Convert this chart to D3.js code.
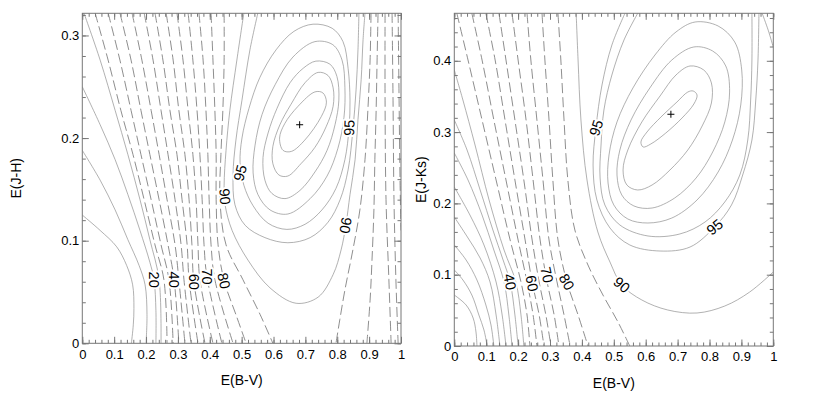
<!DOCTYPE html>
<html>
<head>
<meta charset="utf-8">
<script src="https://cdn.jsdelivr.net/npm/d3@7/dist/d3.min.js"></script>
<style>
  html,body{margin:0;padding:0;background:#fff;}
  svg{display:block;}
</style>
</head>
<body>
<svg id="chart" width="817" height="403"></svg>
<script>
// ---------------- DATA ----------------
const bvRange = [0, 1];
const bvTicks = [0,0.1,0.2,0.3,0.4,0.5,0.6,0.7,0.8,0.9,1];
const bvTickLabels = ["0","0.1","0.2","0.3","0.4","0.5","0.6","0.7","0.8","0.9","1"];

const jhRange = [0, 0.3216];
const jhTicks = [0,0.1,0.2,0.3];
const jhTickLabels = ["0","0.1","0.2","0.3"];

const jkRange = [0, 0.4666];
const jkTicks = [0,0.1,0.2,0.3,0.4];
const jkTickLabels = ["0","0.1","0.2","0.3","0.4"];

// Left panel: E(J-H) vs E(B-V) open contour lines
const jhLineLevels = [10,15,20,25,30,35,40,45,50,55,60,65,70,75,80,85,90,92.5,85,80,75,70,65];
const jhLines = [
 [[0,0.125],[0.056,0.110],[0.108,0.094],[0.139,0.076],[0.158,0.057],[0.162,0.034],[0.160,0.018],[0.154,0]],
 [[0,0.188],[0.056,0.159],[0.103,0.130],[0.143,0.101],[0.178,0.076],[0.197,0.057],[0.203,0.028],[0.200,0]],
 [[0,0.250],[0.056,0.213],[0.103,0.179],[0.143,0.145],[0.181,0.110],[0.212,0.079],[0.225,0.062],[0.231,0.032],[0.231,0]],
 [[0.005,0.322],[0.056,0.276],[0.103,0.227],[0.143,0.184],[0.181,0.140],[0.212,0.101],[0.241,0.062],[0.247,0]],
 [[0.040,0.322],[0.081,0.276],[0.121,0.227],[0.159,0.184],[0.194,0.140],[0.228,0.096],[0.256,0.062],[0.266,0]],
 [[0.081,0.322],[0.118,0.276],[0.153,0.227],[0.184,0.184],[0.216,0.140],[0.247,0.096],[0.272,0.062],[0.285,0]],
 [[0.118,0.322],[0.153,0.276],[0.184,0.227],[0.212,0.184],[0.241,0.140],[0.269,0.096],[0.288,0.062],[0.303,0]],
 [[0.156,0.322],[0.187,0.276],[0.216,0.227],[0.241,0.184],[0.266,0.140],[0.291,0.096],[0.303,0.062],[0.322,0]],
 [[0.194,0.322],[0.222,0.276],[0.247,0.227],[0.269,0.184],[0.291,0.140],[0.310,0.096],[0.319,0.062],[0.341,0]],
 [[0.228,0.322],[0.253,0.276],[0.275,0.227],[0.297,0.184],[0.313,0.140],[0.329,0.096],[0.335,0.062],[0.363,0]],
 [[0.263,0.322],[0.285,0.276],[0.303,0.227],[0.322,0.184],[0.335,0.140],[0.344,0.096],[0.350,0.060],[0.385,0]],
 [[0.297,0.322],[0.316,0.276],[0.332,0.227],[0.347,0.184],[0.357,0.140],[0.363,0.096],[0.369,0.062],[0.410,0]],
 [[0.332,0.322],[0.347,0.276],[0.360,0.227],[0.369,0.184],[0.376,0.140],[0.382,0.096],[0.391,0.065],[0.438,0]],
 [[0.366,0.322],[0.379,0.276],[0.388,0.227],[0.394,0.184],[0.398,0.140],[0.404,0.096],[0.416,0.062],[0.473,0]],
 [[0.404,0.322],[0.410,0.276],[0.416,0.227],[0.420,0.184],[0.420,0.140],[0.426,0.096],[0.445,0.061],[0.482,0.028],[0.514,0]],
 [[0.445,0.322],[0.445,0.276],[0.441,0.227],[0.435,0.184],[0.432,0.140],[0.451,0.096],[0.504,0.062],[0.558,0.028],[0.598,0]],
 [[0.507,0.322],[0.485,0.276],[0.463,0.227],[0.451,0.188],[0.445,0.154],[0.448,0.135],[0.470,0.110],[0.520,0.081],[0.589,0.054],[0.671,0.039],[0.740,0.045],[0.787,0.067],[0.812,0.091],[0.827,0.115],[0.840,0.145],[0.856,0.179],[0.865,0.218],[0.875,0.257],[0.881,0.296],[0.887,0.322]],
 [[0.551,0.322],[0.526,0.286],[0.501,0.237],[0.482,0.198],[0.473,0.164],[0.479,0.135],[0.511,0.115],[0.573,0.103],[0.645,0.098],[0.715,0.103],[0.771,0.118],[0.809,0.140],[0.834,0.169],[0.849,0.208],[0.859,0.247],[0.865,0.286],[0.868,0.322]],
 [[0.906,0.322],[0.903,0.276],[0.896,0.227],[0.887,0.179],[0.871,0.130],[0.849,0.091],[0.824,0.052],[0.808,0.023],[0.796,0]],
 [[0.928,0.322],[0.925,0.276],[0.922,0.227],[0.918,0.179],[0.915,0.130],[0.909,0.081],[0.903,0.042],[0.893,0]],
 [[0.950,0.322],[0.950,0.237],[0.953,0.140],[0.962,0.062],[0.969,0]],
 [[0.972,0.322],[0.975,0.237],[0.978,0.140],[0.984,0.062],[0.991,0]],
 [[0.991,0.322],[0.994,0.237],[0.997,0.159],[1.0,0.110]]
];
// Left panel closed contours around the best fit
const jhRingLevels = [95,96,97,98,99];
const jhRings = [
 [[0.724,0.311],[0.784,0.307],[0.818,0.294],[0.834,0.268],[0.840,0.237],[0.837,0.210],[0.824,0.179],[0.796,0.151],[0.752,0.130],[0.699,0.116],[0.642,0.111],[0.583,0.117],[0.536,0.134],[0.507,0.154],[0.495,0.176],[0.501,0.200],[0.523,0.229],[0.557,0.259],[0.608,0.286],[0.664,0.304]],
 [[0.730,0.294],[0.786,0.291],[0.815,0.276],[0.824,0.249],[0.821,0.220],[0.802,0.190],[0.768,0.163],[0.715,0.141],[0.645,0.126],[0.589,0.130],[0.551,0.145],[0.536,0.166],[0.542,0.193],[0.564,0.223],[0.605,0.252],[0.661,0.279]],
 [[0.733,0.275],[0.777,0.272],[0.799,0.260],[0.805,0.237],[0.793,0.213],[0.768,0.188],[0.730,0.167],[0.683,0.149],[0.636,0.141],[0.595,0.146],[0.573,0.159],[0.567,0.181],[0.583,0.205],[0.611,0.229],[0.652,0.254],[0.693,0.268]],
 [[0.740,0.264],[0.771,0.261],[0.787,0.249],[0.787,0.231],[0.765,0.211],[0.730,0.191],[0.686,0.175],[0.645,0.163],[0.617,0.164],[0.598,0.175],[0.598,0.192],[0.620,0.213],[0.655,0.233],[0.699,0.254]],
 [[0.730,0.245],[0.755,0.244],[0.766,0.235],[0.750,0.221],[0.698,0.198],[0.656,0.187],[0.630,0.188],[0.619,0.200],[0.635,0.214],[0.677,0.231]]
];
const jhLabelText  = ["20","40","60","70","80","90","95","95","90"];
const jhLabelBV    = [0.225,0.288,0.350,0.391,0.445,0.448,0.495,0.837,0.827];
const jhLabelJH    = [0.062,0.062,0.060,0.065,0.061,0.143,0.166,0.210,0.115];
const jhLabelAngle = [90,90,90,90,78,85,-75,-88,100];
const jhBest = [0.682, 0.213];

// Right panel: E(J-Ks) vs E(B-V) open contour lines
const jkLineLevels = [10,15,20,25,30,35,40,45,50,55,60,65,70,75,80,85,90,90,95,96];
const jkLines = [
 [[0,0.0715],[0.037,0.0575],[0.059,0.0393],[0.068,0.0196],[0.071,0]],
 [[0,0.1066],[0.027,0.0926],[0.055,0.0715],[0.077,0.0435],[0.093,0.0224],[0.103,0]],
 [[0,0.1417],[0.037,0.1206],[0.071,0.0926],[0.099,0.0575],[0.115,0.0295],[0.124,0]],
 [[0,0.1809],[0.043,0.1515],[0.081,0.1234],[0.112,0.0898],[0.131,0.0435],[0.143,0]],
 [[0,0.2230],[0.049,0.1837],[0.093,0.1417],[0.131,0.0898],[0.150,0.0435],[0.162,0]],
 [[0,0.2707],[0.043,0.2328],[0.087,0.1837],[0.124,0.1346],[0.156,0.0898],[0.171,0.0435],[0.181,0]],
 [[0,0.3170],[0.040,0.2749],[0.081,0.2188],[0.121,0.1627],[0.153,0.1206],[0.175,0.0898],[0.190,0.0435],[0.200,0]],
 [[0,0.3871],[0.027,0.3450],[0.065,0.2819],[0.109,0.2048],[0.156,0.1346],[0.193,0.0898],[0.209,0.0435],[0.218,0]],
 [[0.008,0.4666],[0.043,0.4011],[0.087,0.3170],[0.131,0.2328],[0.175,0.1487],[0.209,0.0898],[0.228,0.0435],[0.237,0]],
 [[0.055,0.4666],[0.087,0.4011],[0.124,0.3170],[0.162,0.2328],[0.200,0.1487],[0.228,0.0898],[0.247,0.0435],[0.259,0]],
 [[0.099,0.4666],[0.128,0.4011],[0.159,0.3170],[0.190,0.2328],[0.222,0.1487],[0.244,0.0898],[0.266,0.0435],[0.281,0]],
 [[0.140,0.4666],[0.162,0.4011],[0.190,0.3170],[0.218,0.2328],[0.244,0.1487],[0.266,0.0898],[0.287,0.0435],[0.303,0]],
 [[0.181,0.4666],[0.200,0.4011],[0.225,0.3170],[0.247,0.2328],[0.269,0.1487],[0.291,0.0898],[0.313,0.0435],[0.328,0]],
 [[0.228,0.4666],[0.240,0.4011],[0.259,0.3170],[0.278,0.2328],[0.297,0.1487],[0.322,0.0898],[0.344,0.0435],[0.363,0]],
 [[0.275,0.4666],[0.284,0.4011],[0.297,0.3170],[0.309,0.2328],[0.325,0.1487],[0.353,0.0898],[0.388,0.0435],[0.419,0]],
 [[0.325,0.4666],[0.334,0.4011],[0.344,0.3170],[0.356,0.2328],[0.378,0.1627],[0.419,0.1136],[0.466,0.0715],[0.513,0.0337],[0.550,0]],
 [[0.382,0.4666],[0.388,0.4011],[0.397,0.3170],[0.416,0.2328],[0.450,0.1599],[0.488,0.1178],[0.525,0.0856],[0.588,0.0645],[0.669,0.0505],[0.761,0.0463],[0.848,0.0561],[0.926,0.0757],[1.0,0.1038]],
 [[0.965,0.4666],[0.984,0.443],[1.0,0.419]],
 [[0.535,0.4666],[0.494,0.4221],[0.463,0.366],[0.444,0.3057],[0.435,0.2539],[0.447,0.2048],[0.488,0.1655],[0.550,0.1417],[0.645,0.1332],[0.739,0.1388],[0.816,0.1669],[0.869,0.1978],[0.904,0.2398],[0.933,0.2889],[0.945,0.3450],[0.952,0.4011],[0.955,0.4666]],
 [[0.575,0.4666],[0.532,0.4292],[0.494,0.3801],[0.469,0.3310],[0.460,0.2819],[0.457,0.2356],[0.472,0.1978],[0.519,0.1697],[0.607,0.1543],[0.707,0.1571],[0.786,0.1739],[0.848,0.2020],[0.895,0.2398],[0.920,0.2889],[0.929,0.3450],[0.933,0.4011],[0.933,0.4666]]
];
const jkRingLevels = [97,98,99,99.5];
const jkRings = [
 [[0.755,0.4544],[0.827,0.4488],[0.879,0.4264],[0.901,0.3871],[0.898,0.3380],[0.872,0.2889],[0.827,0.2440],[0.761,0.2048],[0.682,0.1795],[0.607,0.1725],[0.544,0.1781],[0.500,0.1978],[0.482,0.2286],[0.485,0.2679],[0.510,0.3142],[0.560,0.3619],[0.629,0.4081],[0.695,0.4404]],
 [[0.751,0.4194],[0.810,0.4137],[0.851,0.3927],[0.863,0.3562],[0.848,0.3142],[0.810,0.2721],[0.758,0.2356],[0.691,0.2076],[0.620,0.1935],[0.563,0.1964],[0.525,0.2118],[0.510,0.2398],[0.519,0.2749],[0.554,0.3170],[0.613,0.3619],[0.682,0.4011]],
 [[0.739,0.3927],[0.782,0.3871],[0.806,0.3689],[0.806,0.3408],[0.777,0.3086],[0.732,0.2749],[0.676,0.2468],[0.620,0.2258],[0.575,0.2188],[0.541,0.2258],[0.529,0.2468],[0.544,0.2749],[0.588,0.3142],[0.645,0.3506],[0.695,0.3801]],
 [[0.749,0.3576],[0.761,0.3520],[0.751,0.3394],[0.714,0.3198],[0.663,0.2987],[0.616,0.2833],[0.592,0.2791],[0.585,0.2861],[0.604,0.3001],[0.648,0.3212],[0.698,0.3422],[0.732,0.3562]]
];
const jkLabelText  = ["40","60","70","80","90","95","95"];
const jkLabelBV    = [0.175,0.244,0.291,0.353,0.525,0.816,0.444];
const jkLabelJK    = [0.090,0.088,0.100,0.090,0.086,0.167,0.306];
const jkLabelAngle = [80,80,78,60,40,-40,-72];
const jkBest = [0.679, 0.325];

// ---------------- DRAWING ----------------
const FONT = "'Liberation Sans', Arial, Helvetica, sans-serif";
const svg = d3.select("#chart");
const defs = svg.append("defs");
const FRAME = "#777777", CONTOUR = "#8f8f8f", CONTOUR_DASH = "#7a7a7a";

function drawPanel(p) {
  const x = d3.scaleLinear().domain(bvRange).range([p.left, p.right]);
  const y = d3.scaleLinear().domain(p.yRange).range([p.bottom, p.top]);
  const g = svg.append("g");

  defs.append("clipPath").attr("id", "clip-" + p.id)
    .append("rect").attr("x", p.left).attr("y", p.top)
    .attr("width", p.right - p.left).attr("height", p.bottom - p.top);
  const plot = g.append("g").attr("clip-path", `url(#clip-${p.id})`);

  const openLine = d3.line().x(d => x(d[0])).y(d => y(d[1])).curve(d3.curveCatmullRom.alpha(0.5));
  const ringLine = d3.line().x(d => x(d[0])).y(d => y(d[1])).curve(d3.curveCatmullRomClosed.alpha(0.5));

  p.lines.forEach((pts, i) => {
    const px = pts.map(d => x(d[0])), py = pts.map(d => y(d[1]));
    const w = d3.max(px) - d3.min(px), h = d3.max(py) - d3.min(py);
    const steep = w < 0.22 * h;
    plot.append("path")
      .attr("class", "contour level-" + p.lineLevels[i])
      .attr("d", openLine(pts))
      .attr("fill", "none")
      .attr("stroke", steep ? CONTOUR_DASH : CONTOUR)
      .attr("stroke-width", steep ? 0.85 : 0.7)
      .attr("stroke-dasharray", steep ? "10,4" : null);
  });
  p.rings.forEach((pts, i) => {
    plot.append("path")
      .attr("class", "contour level-" + p.ringLevels[i])
      .attr("d", ringLine(pts))
      .attr("fill", "none").attr("stroke", CONTOUR).attr("stroke-width", 0.7);
  });

  // contour labels
  p.labText.forEach((t, i) => {
    plot.append("text")
      .attr("transform", `translate(${x(p.labX[i])},${y(p.labY[i])}) rotate(${p.labRot[i]})`)
      .attr("text-anchor", "middle").attr("dy", "0.36em")
      .attr("font-family", FONT).attr("font-size", 14.5)
      .attr("fill", "#000").attr("stroke", "#fff").attr("stroke-width", 4)
      .attr("paint-order", "stroke").attr("stroke-linejoin", "round")
      .text(t);
  });

  // best-fit marker
  const bx = x(p.best[0]), by = y(p.best[1]);
  g.append("path").attr("d", `M${bx-3.5},${by}H${bx+3.5}M${bx},${by-3.5}V${by+3.5}`)
    .attr("stroke", "#000").attr("stroke-width", 1);

  // axes (ticks inward, on all four sides)
  const styleAxis = sel => {
    sel.select(".domain").remove();
    sel.selectAll("line").attr("stroke", FRAME);
    sel.selectAll("text").attr("font-family", FONT).attr("font-size", 13).attr("fill", "#000");
  };
  const xMinor = d3.range(0, 1.0001, 0.02);
  const yMinor = d3.range(0, p.yRange[1], 0.02);

  g.append("g").attr("transform", `translate(0,${p.bottom})`)
    .call(d3.axisBottom(x).tickValues(xMinor).tickSize(-3.5).tickFormat("")).call(styleAxis);
  g.append("g").attr("transform", `translate(0,${p.bottom})`)
    .call(d3.axisBottom(x).tickValues(bvTicks).tickSize(-6.5).tickPadding(6)
      .tickFormat((d, i) => bvTickLabels[i])).call(styleAxis);
  g.append("g").attr("transform", `translate(0,${p.top})`)
    .call(d3.axisTop(x).tickValues(xMinor).tickSize(-3.5).tickFormat("")).call(styleAxis);
  g.append("g").attr("transform", `translate(0,${p.top})`)
    .call(d3.axisTop(x).tickValues(bvTicks).tickSize(-6.5).tickFormat("")).call(styleAxis);

  g.append("g").attr("transform", `translate(${p.left},0)`)
    .call(d3.axisLeft(y).tickValues(yMinor).tickSize(-3.5).tickFormat("")).call(styleAxis);
  g.append("g").attr("transform", `translate(${p.left},0)`)
    .call(d3.axisLeft(y).tickValues(p.yTicks).tickSize(-6.5).tickPadding(3)
      .tickFormat((d, i) => p.yTickLabels[i])).call(styleAxis);
  g.append("g").attr("transform", `translate(${p.right},0)`)
    .call(d3.axisRight(y).tickValues(yMinor).tickSize(-3.5).tickFormat("")).call(styleAxis);
  g.append("g").attr("transform", `translate(${p.right},0)`)
    .call(d3.axisRight(y).tickValues(p.yTicks).tickSize(-6.5).tickFormat("")).call(styleAxis);

  // frame
  g.append("rect").attr("x", p.left).attr("y", p.top)
    .attr("width", p.right - p.left).attr("height", p.bottom - p.top)
    .attr("fill", "none").attr("stroke", FRAME).attr("stroke-width", 1);

  // axis titles
  g.append("text").attr("x", (p.left + p.right) / 2).attr("y", p.bottom + 42)
    .attr("text-anchor", "middle").attr("font-family", FONT).attr("font-size", 14)
    .attr("fill", "#000").text("E(B-V)");
  g.append("text")
    .attr("transform", `translate(${p.yTitleX},${(p.top + p.bottom) / 2}) rotate(-90)`)
    .attr("text-anchor", "middle").attr("font-family", FONT).attr("font-size", 14)
    .attr("fill", "#000").text(p.yTitle);
}

drawPanel({
  id: "jh", left: 82.3, right: 401, top: 13.3, bottom: 343.3,
  yRange: jhRange, yTicks: jhTicks, yTickLabels: jhTickLabels,
  lines: jhLines, lineLevels: jhLineLevels, rings: jhRings, ringLevels: jhRingLevels,
  labText: jhLabelText, labX: jhLabelBV, labY: jhLabelJH, labRot: jhLabelAngle,
  best: jhBest, yTitle: "E(J-H)", yTitleX: 21
});
drawPanel({
  id: "jk", left: 454.3, right: 773.3, top: 13.3, bottom: 346,
  yRange: jkRange, yTicks: jkTicks, yTickLabels: jkTickLabels,
  lines: jkLines, lineLevels: jkLineLevels, rings: jkRings, ringLevels: jkRingLevels,
  labText: jkLabelText, labX: jkLabelBV, labY: jkLabelJK, labRot: jkLabelAngle,
  best: jkBest, yTitle: "E(J-Ks)", yTitleX: 426
});
</script>
</body>
</html>
